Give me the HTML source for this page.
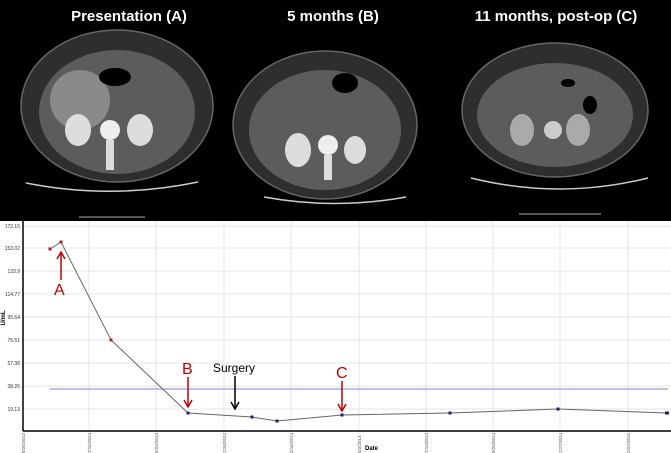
<!DOCTYPE html>
<html><head><meta charset="utf-8"><style>
html,body{margin:0;padding:0;background:#fff;}
svg{display:block;font-family:"Liberation Sans",sans-serif;}
</style></head><body>
<svg width="671" height="453" viewBox="0 0 671 453" xmlns="http://www.w3.org/2000/svg">
<rect x="0" y="0" width="671" height="221" fill="#000"/>
<g font-weight="bold" fill="#fff" font-size="15" text-anchor="middle">
<text x="129" y="21">Presentation (A)</text>
<text x="333" y="21">5 months (B)</text>
<text x="556" y="21">11 months, post-op (C)</text>
</g>
<!-- Scan A -->
<g>
<ellipse cx="117" cy="106" rx="96" ry="76" fill="#2e2e2e" stroke="#666" stroke-width="1.5"/>
<ellipse cx="117" cy="112" rx="78" ry="62" fill="#5c5c5c"/>
<ellipse cx="80" cy="100" rx="30" ry="30" fill="#8a8a8a"/>
<ellipse cx="115" cy="77" rx="16" ry="9" fill="#000"/>
<ellipse cx="78" cy="130" rx="13" ry="16" fill="#ddd"/>
<ellipse cx="140" cy="130" rx="13" ry="16" fill="#ddd"/>
<circle cx="110" cy="130" r="10" fill="#eee"/>
<rect x="106" y="140" width="8" height="30" fill="#ddd"/>
<path d="M26 183 Q112 200 198 182" stroke="#ccc" stroke-width="1.5" fill="none"/>
<line x1="79" y1="217" x2="145" y2="217" stroke="#aaa"/>
</g>
<!-- Scan B -->
<g>
<ellipse cx="325" cy="125" rx="92" ry="74" fill="#2e2e2e" stroke="#666" stroke-width="1.5"/>
<ellipse cx="325" cy="130" rx="76" ry="60" fill="#5c5c5c"/>
<ellipse cx="345" cy="83" rx="13" ry="10" fill="#000"/>
<ellipse cx="298" cy="150" rx="13" ry="17" fill="#ddd"/>
<ellipse cx="355" cy="150" rx="11" ry="14" fill="#ddd"/>
<circle cx="328" cy="145" r="10" fill="#eee"/>
<rect x="324" y="155" width="8" height="25" fill="#ddd"/>
<path d="M264 197 Q335 210 406 197" stroke="#ccc" stroke-width="1.5" fill="none"/>
</g>
<!-- Scan C -->
<g>
<ellipse cx="555" cy="110" rx="93" ry="67" fill="#2e2e2e" stroke="#666" stroke-width="1.5"/>
<ellipse cx="555" cy="115" rx="78" ry="52" fill="#5c5c5c"/>
<ellipse cx="522" cy="130" rx="12" ry="16" fill="#aaa"/>
<ellipse cx="578" cy="130" rx="12" ry="16" fill="#aaa"/>
<circle cx="553" cy="130" r="9" fill="#ccc"/>
<ellipse cx="590" cy="105" rx="7" ry="9" fill="#000"/>
<ellipse cx="568" cy="83" rx="7" ry="4" fill="#000"/>
<path d="M471 178 Q560 200 648 178" stroke="#ccc" stroke-width="1.5" fill="none"/>
<line x1="519" y1="214" x2="601" y2="214" stroke="#aaa"/>
</g>
<!-- Chart -->
<g stroke="#e4e4e4" stroke-width="1">
<line x1="23" y1="226" x2="671" y2="226"/><line x1="23" y1="248" x2="671" y2="248"/>
<line x1="23" y1="271" x2="671" y2="271"/><line x1="23" y1="294" x2="671" y2="294"/>
<line x1="23" y1="317" x2="671" y2="317"/><line x1="23" y1="340" x2="671" y2="340"/>
<line x1="23" y1="363" x2="671" y2="363"/><line x1="23" y1="386" x2="671" y2="386"/>
<line x1="23" y1="409" x2="671" y2="409"/>
<line x1="89" y1="221" x2="89" y2="431"/><line x1="156" y1="221" x2="156" y2="431"/>
<line x1="224" y1="221" x2="224" y2="431"/><line x1="291" y1="221" x2="291" y2="431"/>
<line x1="359" y1="221" x2="359" y2="431"/><line x1="426" y1="221" x2="426" y2="431"/>
<line x1="493" y1="221" x2="493" y2="431"/><line x1="560" y1="221" x2="560" y2="431"/>
<line x1="628" y1="221" x2="628" y2="431"/>
</g>
<line x1="23" y1="221" x2="23" y2="431" stroke="#000" stroke-width="1.5"/>
<line x1="23" y1="431" x2="671" y2="431" stroke="#000" stroke-width="1.5"/>
<line x1="50" y1="389" x2="668" y2="389" stroke="#8080e0" stroke-width="1"/>
<g font-size="5" fill="#333" text-anchor="end">
<text x="20" y="228">172.15</text><text x="20" y="250">153.02</text>
<text x="20" y="273">133.9</text><text x="20" y="296">114.77</text>
<text x="20" y="319">95.64</text><text x="20" y="342">76.51</text>
<text x="20" y="365">57.38</text><text x="20" y="388">38.26</text>
<text x="20" y="411">19.13</text>
</g>
<text x="5" y="318" font-size="6" font-weight="bold" transform="rotate(-90 5 318)" text-anchor="middle">U/mL</text>
<g font-size="4.5" fill="#555">
<text transform="translate(25 453) rotate(-90)">8/26/2013</text>
<text transform="translate(91 453) rotate(-90)">7/15/2013</text>
<text transform="translate(158 453) rotate(-90)">9/24/2013</text>
<text transform="translate(226 453) rotate(-90)">12/6/2013</text>
<text transform="translate(293 453) rotate(-90)">2/16/2014</text>
<text transform="translate(361 453) rotate(-90)">5/2/2014</text>
<text transform="translate(428 453) rotate(-90)">7/15/2014</text>
<text transform="translate(495 453) rotate(-90)">9/26/2014</text>
<text transform="translate(562 453) rotate(-90)">12/7/2014</text>
<text transform="translate(630 453) rotate(-90)">2/22/2015</text>
</g>
<text x="365" y="450" font-size="6" font-weight="bold">Date</text>
<polyline points="50,249 61,242 111,340 188,413 252,417 277,421 342,415 450,413 558,409 667,413" fill="none" stroke="#666" stroke-width="1"/>
<g fill="#b02020"><rect x="48.5" y="247.5" width="3" height="3"/><rect x="59.5" y="240.5" width="3" height="3"/><rect x="109.5" y="338.5" width="3" height="3"/></g>
<g fill="#202070"><rect x="186.5" y="411.5" width="3" height="3"/><rect x="250.5" y="415.5" width="3" height="3"/><rect x="275.5" y="419.5" width="3" height="3"/><rect x="340.5" y="413.5" width="3" height="3"/><rect x="448.5" y="411.5" width="3" height="3"/><rect x="556.5" y="407.5" width="3" height="3"/><rect x="665" y="411.5" width="4" height="3"/></g>
<!-- annotations -->
<g stroke="#c00000" stroke-width="1.5" fill="none">
<line x1="61" y1="280" x2="61" y2="253"/><polyline points="57,259 61,252 65,259"/>
<line x1="188" y1="377" x2="188" y2="406"/><polyline points="184,400 188,407 192,400"/>
<line x1="342" y1="381" x2="342" y2="410"/><polyline points="338,404 342,411 346,404"/>
</g>
<g stroke="#000" stroke-width="1.5" fill="none">
<line x1="235" y1="376" x2="235" y2="408"/><polyline points="231,402 235,409 239,402"/>
</g>
<g fill="#c00000" font-size="16">
<text x="54" y="295">A</text><text x="182" y="374">B</text><text x="336" y="378">C</text>
</g>
<text x="213" y="372" font-size="12" fill="#000">Surgery</text>
</svg>
</body></html>
